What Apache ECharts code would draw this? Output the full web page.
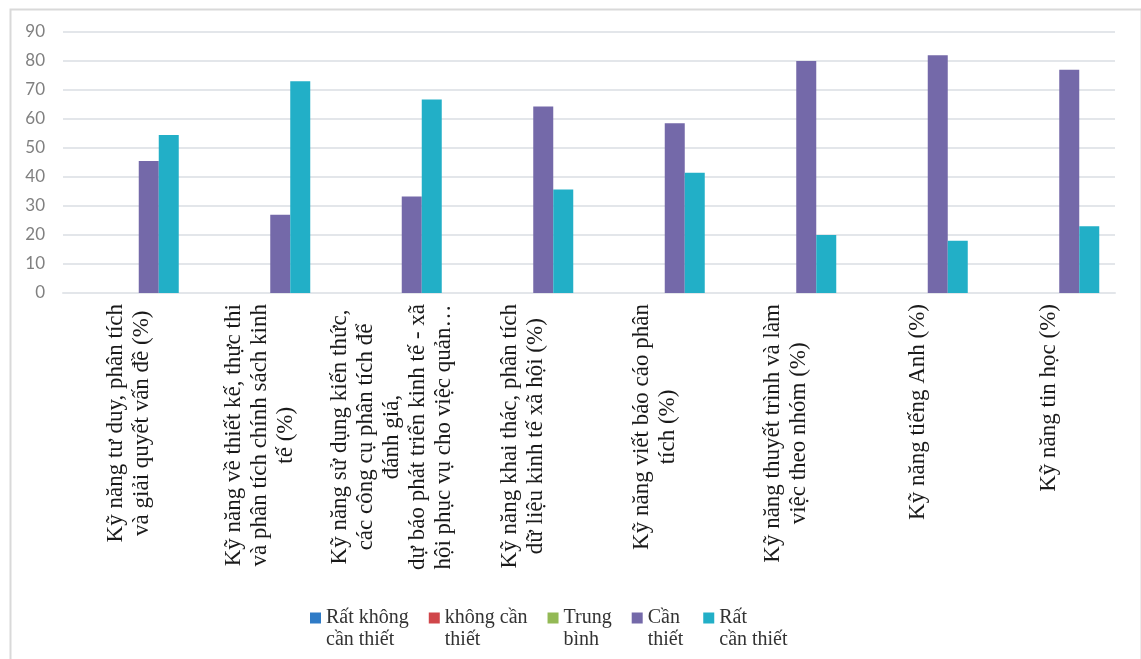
<!DOCTYPE html>
<html>
<head>
<meta charset="utf-8">
<script src="https://cdn.jsdelivr.net/npm/echarts@6/dist/echarts.min.js"></script>
<style>
  html, body { margin: 0; padding: 0; background: #fff; }
  #chart { width: 1141px; height: 659px; }
</style>
</head>
<body>
<div id="chart"></div>
<script>
// nhóm kỹ năng (trục hoành)
const categories = [
    'Kỹ năng tư duy, phân tích\nvà giải quyết vấn đề (%)',
    'Kỹ năng về thiết kế, thực thi\nvà phân tích chính sách kinh\ntế (%)',
    'Kỹ năng sử dụng kiến thức,\ncác công cụ phân tích để\nđánh giá,\ndự báo phát triển kinh tế - xã\nhội phục vụ cho việc quản…',
    'Kỹ năng khai thác, phân tích\ndữ liệu kinh tế xã hội (%)',
    'Kỹ năng viết báo cáo phân\ntích (%)',
    'Kỹ năng thuyết trình và làm\nviệc theo nhóm (%)',
    'Kỹ năng tiếng Anh (%)',
    'Kỹ năng tin học (%)'
]

const seriesNames = ['Rất không\ncần thiết', 'không cần\nthiết', 'Trung\nbình', 'Cần\nthiết', 'Rất\ncần thiết']

// giá trị từng mức đánh giá (%)
const ratKhongCanThiet = [0, 0, 0, 0, 0, 0, 0, 0]
const khongCanThiet = [0, 0, 0, 0, 0, 0, 0, 0]
const trungBinh = [0, 0, 0, 0, 0, 0, 0, 0]
const canThiet = [45.5, 27, 33.3, 64.3, 58.5, 80, 82, 77]
const ratCanThiet = [54.5, 73, 66.7, 35.7, 41.5, 20, 18, 23]

const yTicks = { min: 0, max: 90, interval: 10 }

const colors = ['#2F7BC6', '#D0464A', '#93B955', '#7469A9', '#22AFC7']
const serif = '"Liberation Serif", "Times New Roman", serif'

let chart = echarts.init(document.getElementById('chart'))

let option = {
    color: colors,
    animation: false,
    grid: {
        top: 32,
        bottom: 366,
        left: 63,
        right: 26
    },
    graphic: [{
        type: 'rect',
        left: 8,
        top: 7,
        shape: { width: 1131, height: 680 },
        style: { fill: 'none', stroke: '#d9d9d9', lineWidth: 2 },
        silent: true
    }],
    legend: {
        left: 305,
        top: 580,
        itemWidth: 11,
        itemHeight: 11,
        itemGap: 20,
        icon: 'rect',
        // dòng trống phía trên để ô màu thẳng hàng với dòng chữ đầu
        formatter: (name) => ' \n' + name,
        textStyle: {
            fontFamily: serif,
            fontSize: 20,
            lineHeight: 22,
            color: '#333'
        },
        data: seriesNames
    },
    xAxis: {
        type: 'category',
        data: categories,
        axisTick: { show: false },
        axisLine: { show: true, lineStyle: { color: '#E3E6EA', width: 2 } },
        axisLabel: {
            interval: 0,
            rotate: 90,
            margin: 11,
            formatter: (val) => val.split('\n').map(l => '{c|' + l + '}').join('\n'),
            rich: {
                c: {
                    align: 'center',
                    fontFamily: serif,
                    fontSize: 23,
                    lineHeight: 26,
                    color: '#1a1a1a'
                }
            }
        }
    },
    yAxis: {
        type: 'value',
        min: yTicks.min,
        max: yTicks.max,
        interval: yTicks.interval,
        axisLine: { show: false },
        axisTick: { show: false },
        axisLabel: {
            margin: 18,
            fontFamily: 'Lato, sans-serif',
            fontSize: 17,
            color: '#808080'
        },
        splitLine: {
            lineStyle: { color: '#E3E6EA', width: 2 }
        }
    },
    series: [ratKhongCanThiet, khongCanThiet, trungBinh, canThiet, ratCanThiet].map((d, i) => ({
        name: seriesNames[i],
        type: 'bar',
        barWidth: 20,
        barGap: '0%',
        data: d
    }))
}
chart.setOption(option)
</script>
</body>
</html>
